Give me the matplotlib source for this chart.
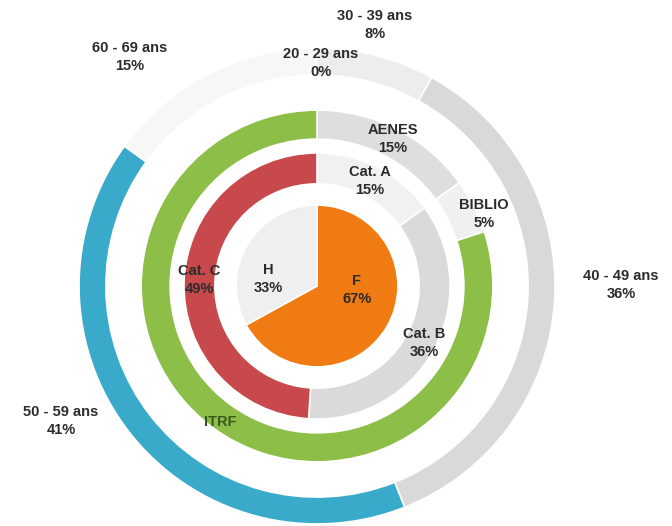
import matplotlib
matplotlib.use("Agg")
import matplotlib.pyplot as plt

# data of each ring (from outside to inside)
ages = ["20 - 29 ans", "30 - 39 ans", "40 - 49 ans", "50 - 59 ans", "60 - 69 ans"]
ages_pct = [0, 8, 36, 41, 15]

filieres = ["AENES", "BIBLIO", "ITRF"]
filieres_pct = [15, 5, 80]

categories = ["Cat. A", "Cat. B", "Cat. C"]
categories_pct = [15, 36, 49]

sexes = ["F", "H"]
sexes_pct = [67, 33]

# colours
ages_colors = ["#f2f2f2", "#ededed", "#d9d9d9", "#3aaacb", "#f7f7f7"]
filieres_colors = ["#dedede", "#f0f0f0", "#8dbe48"]
categories_colors = ["#f1f1f1", "#dadada", "#c8494c"]
sexes_colors = ["#ef7b12", "#efefef"]

# label positions in data coords (ring centre = 0,0 , outer radius = 1)
ages_pos = [(0.017, 0.937), (0.244, 1.097), (1.277, 0.004), (-1.076, -0.567), (-0.786, 0.962)]
filieres_pos = [(0.319, 0.618), (0.702, 0.303), (-0.408, -0.571)]
categories_pos = [(0.223, 0.441), (0.45, -0.24), (-0.496, 0.025)]
sexes_pos = [(0.168, -0.017), (-0.206, 0.029)]

fig = plt.figure(figsize=(6.72, 5.26), dpi=100)
ax = fig.add_axes([0.1176, 0.0038, 0.7083, 0.905])

edge = dict(edgecolor="white", linewidth=1.2)
ax.pie(ages_pct, radius=1.0, colors=ages_colors, startangle=90, counterclock=False,
       wedgeprops=dict(width=0.113, **edge))
ax.pie(filieres_pct, radius=0.739, colors=filieres_colors, startangle=90, counterclock=False,
       wedgeprops=dict(width=0.122, **edge))
ax.pie(categories_pct, radius=0.559, colors=categories_colors, startangle=90, counterclock=False,
       wedgeprops=dict(width=0.13, **edge))
ax.pie(sexes_pct, radius=0.34, colors=sexes_colors, startangle=90, counterclock=False,
       wedgeprops=dict(**edge))

ax.set_xlim(-1, 1)
ax.set_ylim(-1, 1)
ax.set_aspect("equal")
ax.axis("off")

font = dict(fontsize=10.5, fontweight="bold", family="Liberation Sans",
            ha="center", va="center", linespacing=1.35, color="#2b2b2b")

for name, pct, (x, y) in zip(ages, ages_pct, ages_pos):
    ax.text(x, y, "%s\n%d%%" % (name, pct), **font)
for name, pct, (x, y) in zip(filieres, filieres_pct, filieres_pos):
    if name == "ITRF":
        ax.text(x, y, name, **{**font, "color": "#3a5a1c"})
    else:
        ax.text(x, y, "%s\n%d%%" % (name, pct), **font)
for name, pct, (x, y) in zip(categories, categories_pct, categories_pos):
    ax.text(x, y, "%s\n%d%%" % (name, pct), **font)
for name, pct, (x, y) in zip(sexes, sexes_pct, sexes_pos):
    ax.text(x, y, "%s\n%d%%" % (name, pct), **font)

fig.savefig("out.png", dpi=100, facecolor="white")
